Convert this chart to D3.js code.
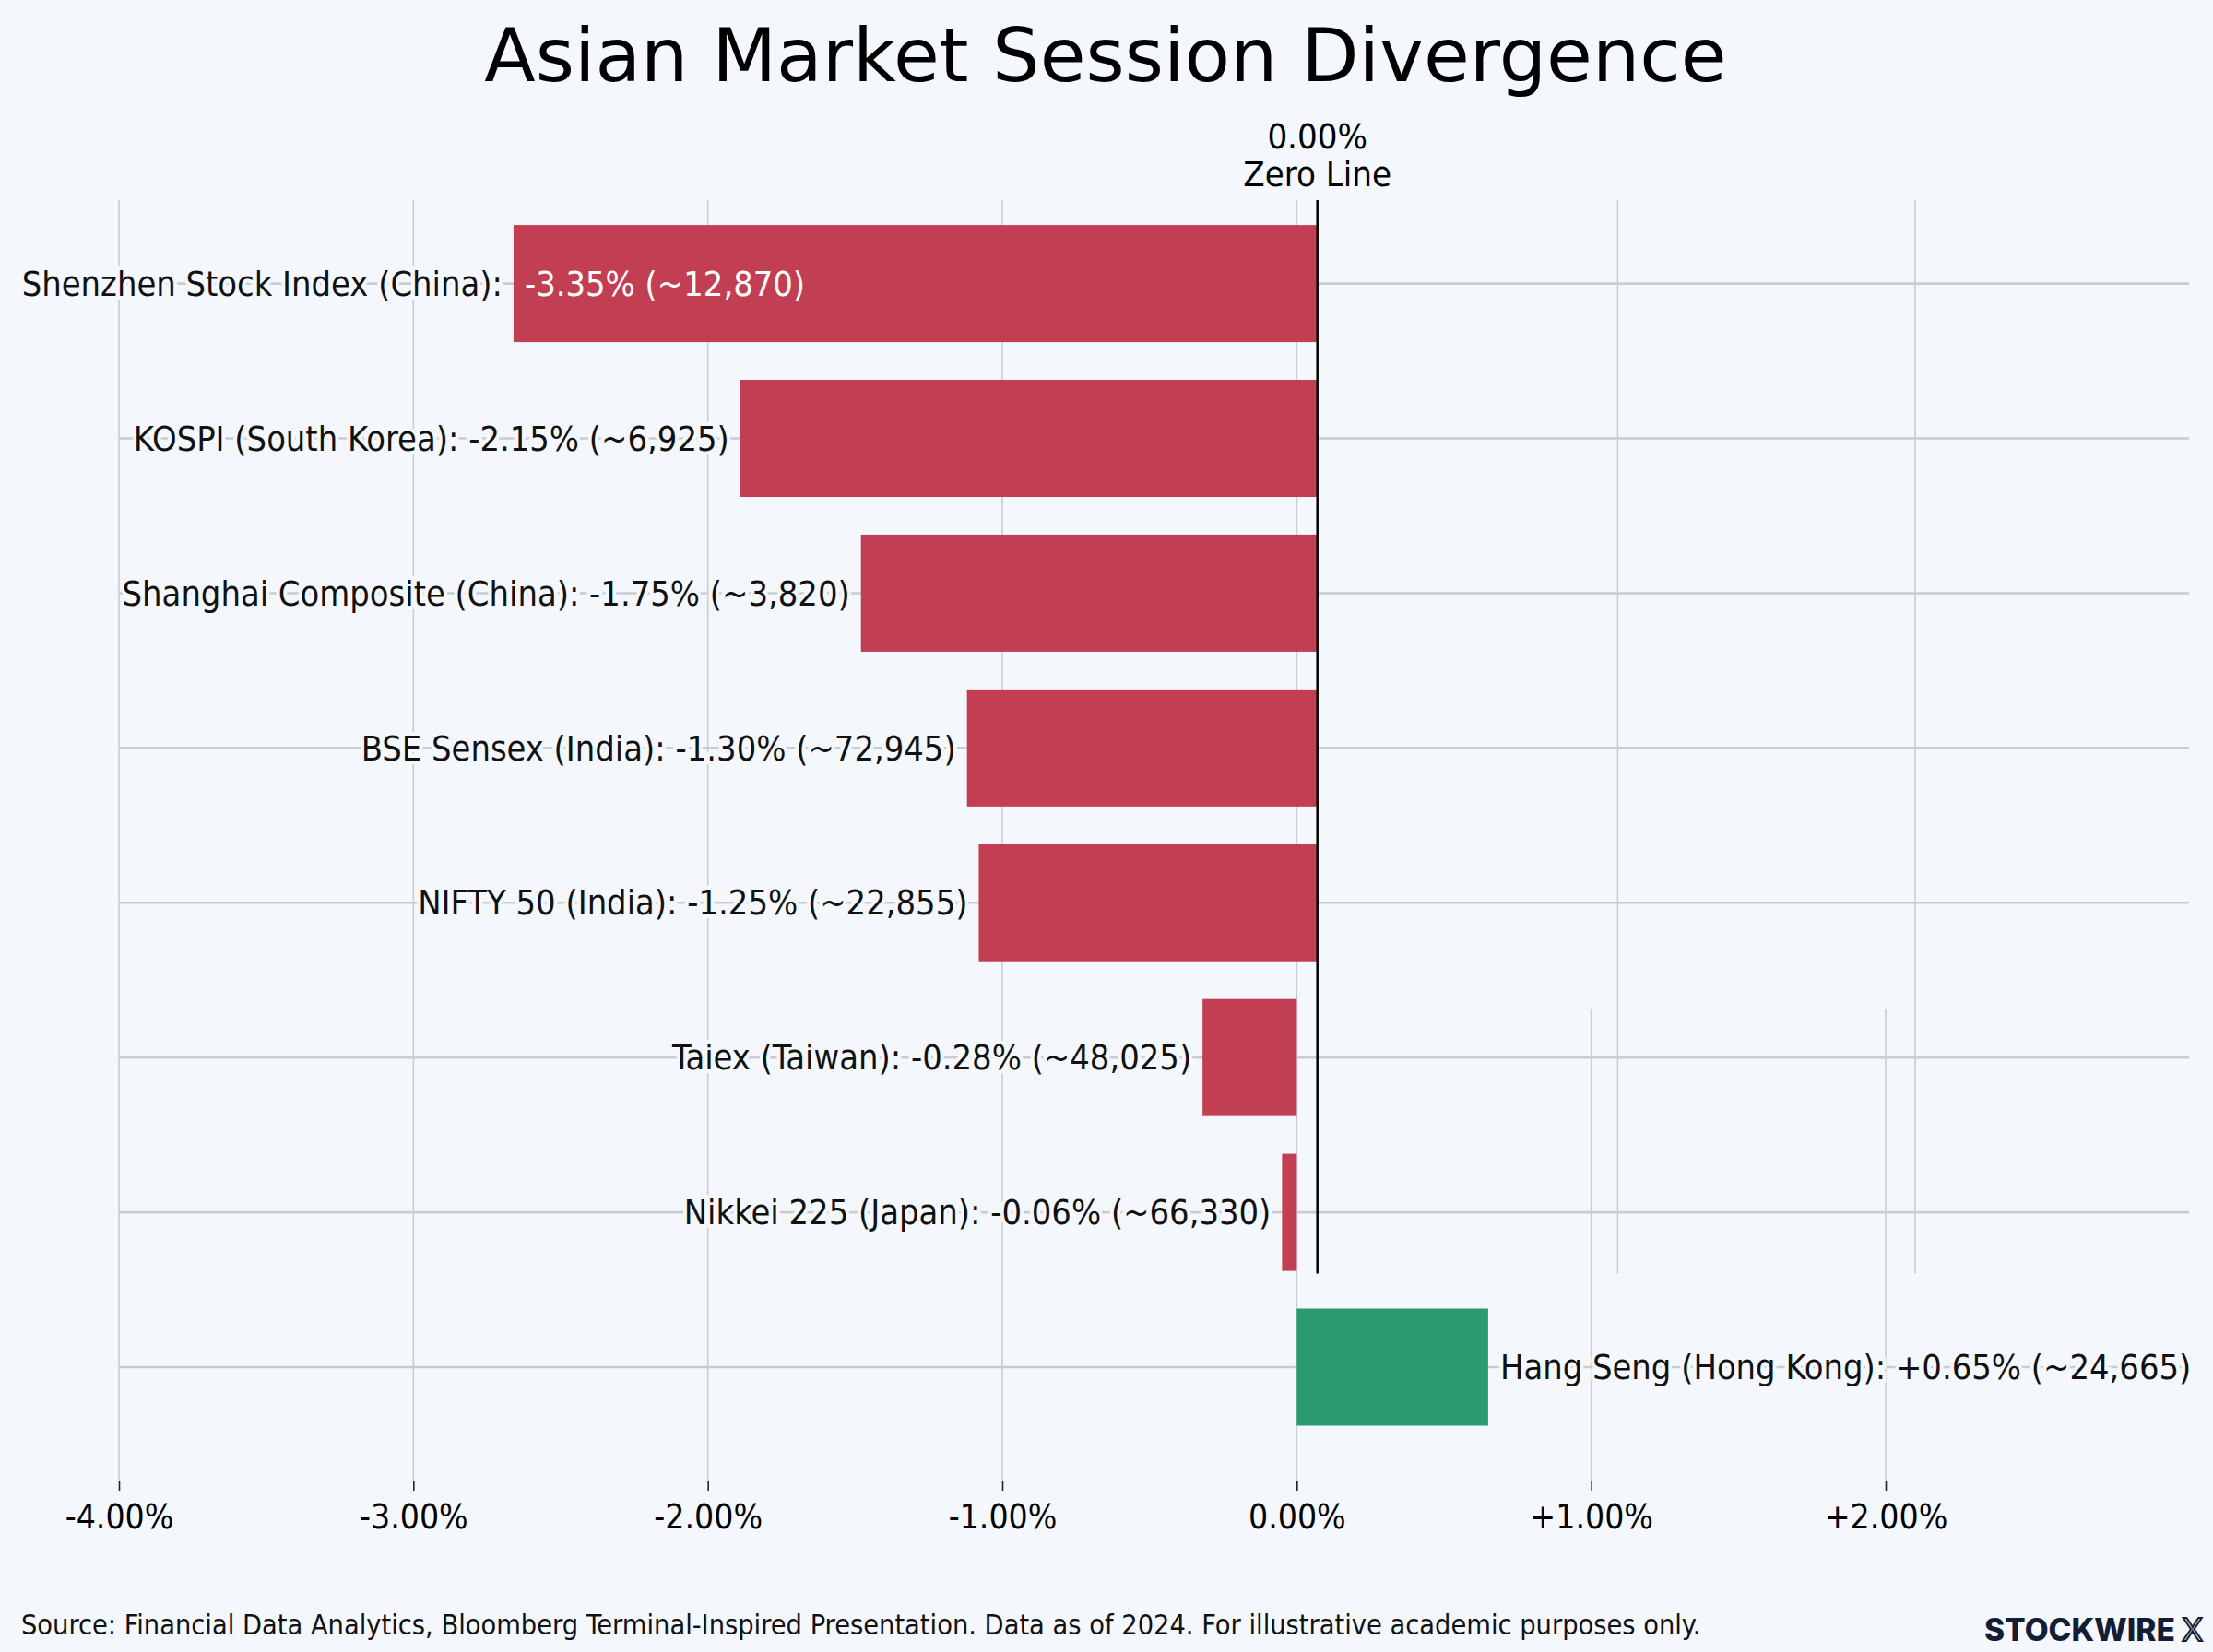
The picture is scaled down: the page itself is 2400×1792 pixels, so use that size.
<html>
<head>
    <title>Asian Market Session Divergence</title>
    <script src="https://d3js.org/d3.v7.min.js"></script>
    <style>
        body { margin: 0; background: #f4f8fc; }
        text { font-family: "DejaVu Sans Condensed", "DejaVu Sans", sans-serif; }
    </style>
</head>
<body>
    <svg id="chart" width="2400" height="1792"></svg>

    <script>
        // index names, session change (%) and approximate level, as printed on the labels
        const names = [
            "Shenzhen Stock Index (China)",
            "KOSPI (South Korea)",
            "Shanghai Composite (China)",
            "BSE Sensex (India)",
            "NIFTY 50 (India)",
            "Taiex (Taiwan)",
            "Nikkei 225 (Japan)",
            "Hang Seng (Hong Kong)"
        ];
        const changes = [-3.35, -2.15, -1.75, -1.30, -1.25, -0.28, -0.06, 0.65];
        const levels = [12870, 6925, 3820, 72945, 22855, 48025, 66330, 24665];

        // where each bar actually starts / ends on the axis
        const barStart = [-2.66, -1.89, -1.48, -1.12, -1.08, -0.32, -0.05, 0];
        const barEnd = [0.07, 0.07, 0.07, 0.07, 0.07, 0, 0, 0.65];

        const tickValues = [-4, -3, -2, -1, 0, 1, 2];
        const fullGrid = [-4, -3, -2, -1, 0];
        const lowerGrid = [1, 2];
        const upperGrid = [1.09, 2.10];
        const zeroLineAt = 0.07;

        const svg = d3.select("#chart");
        const bg = "#f4f8fc";
        const red = "#c23f53";
        const green = "#2a9a71";
        const gridColor = "#c9ccd0";

        svg.append("rect").attr("width", 2400).attr("height", 1792).attr("fill", bg);

        const x = d3.scaleLinear().domain([-4, 2]).range([129, 2045]);
        const y = d3.scalePoint().domain(names).range([307.6, 1483]);
        const barH = 127;
        const plotTop = 217;
        const plotBottom = 1607;
        const lastUpper = y(names[6]) + barH / 2 + 3;
        const firstLower = y(names[5]) - barH / 2 + 11;

        // title
        svg.append("text")
            .attr("x", 1199).attr("y", 88)
            .attr("text-anchor", "middle")
            .style("font-family", "'DejaVu Sans', sans-serif")
            .attr("font-size", 81)
            .attr("fill", "#000")
            .text("Asian Market Session Divergence");

        const grid = svg.append("g");

        grid.selectAll(".vfull").data(fullGrid).join("line")
            .attr("x1", d => x(d)).attr("x2", d => x(d))
            .attr("y1", plotTop).attr("y2", plotBottom)
            .attr("stroke", gridColor).attr("stroke-width", 1.6);

        grid.selectAll(".vlow").data(lowerGrid).join("line")
            .attr("x1", d => x(d)).attr("x2", d => x(d))
            .attr("y1", firstLower).attr("y2", plotBottom)
            .attr("stroke", gridColor).attr("stroke-width", 1.6);

        grid.selectAll(".vup").data(upperGrid).join("line")
            .attr("x1", d => x(d)).attr("x2", d => x(d))
            .attr("y1", plotTop).attr("y2", lastUpper)
            .attr("stroke", gridColor).attr("stroke-width", 1.6);

        grid.selectAll(".h").data(names).join("line")
            .attr("x1", x(-4)).attr("x2", 2374)
            .attr("y1", d => y(d)).attr("y2", d => y(d))
            .attr("stroke", gridColor).attr("stroke-width", 2.6);

        const rows = names.map((n, i) => ({
            name: n, change: changes[i], level: levels[i],
            from: barStart[i], to: barEnd[i]
        }));

        svg.append("g").selectAll("rect").data(rows).join("rect")
            .attr("x", d => x(d.from))
            .attr("width", d => x(d.to) - x(d.from))
            .attr("y", d => y(d.name) - barH / 2)
            .attr("height", barH)
            .attr("fill", d => d.change < 0 ? red : green);

        // zero line
        svg.append("line")
            .attr("x1", x(zeroLineAt)).attr("x2", x(zeroLineAt))
            .attr("y1", plotTop).attr("y2", lastUpper)
            .attr("stroke", "#000").attr("stroke-width", 2.5);

        svg.append("text")
            .attr("x", x(zeroLineAt)).attr("y", 161)
            .attr("text-anchor", "middle").attr("font-size", 38)
            .text("0.00%");
        svg.append("text")
            .attr("x", x(zeroLineAt)).attr("y", 202)
            .attr("text-anchor", "middle").attr("font-size", 38)
            .text("Zero Line");

        const fmtPct = v => (v > 0 ? "+" : "") + v.toFixed(2) + "%";
        const fmtLvl = d3.format(",");

        const labels = svg.append("g")
            .attr("font-size", 37.7);

        rows.forEach((d, i) => {
            const cy = y(d.name);
            const valueText = `${fmtPct(d.change)} (~${fmtLvl(d.level)})`;
            if (i === 0) {
                // name outside, value inside the bar in white
                labels.append("text")
                    .attr("x", x(d.from) - 12).attr("y", cy).attr("dy", "0.35em")
                    .attr("text-anchor", "end")
                    .attr("stroke", bg).attr("stroke-width", 8)
                    .attr("paint-order", "stroke").attr("fill", "#111")
                    .text(d.name + ":");
                labels.append("text")
                    .attr("x", x(d.from) + 12).attr("y", cy).attr("dy", "0.35em")
                    .attr("fill", "#fff")
                    .text(valueText);
            } else if (d.change < 0) {
                labels.append("text")
                    .attr("x", x(d.from) - 12).attr("y", cy).attr("dy", "0.35em")
                    .attr("text-anchor", "end")
                    .attr("stroke", bg).attr("stroke-width", 8)
                    .attr("paint-order", "stroke").attr("fill", "#111")
                    .text(`${d.name}: ${valueText}`);
            } else {
                labels.append("text")
                    .attr("x", x(d.to) + 13).attr("y", cy).attr("dy", "0.35em")
                    .attr("stroke", bg).attr("stroke-width", 8)
                    .attr("paint-order", "stroke").attr("fill", "#111")
                    .text(`${d.name}: ${valueText}`);
            }
        });

        // x axis
        const axis = svg.append("g")
            .attr("transform", `translate(0,${plotBottom})`)
            .call(d3.axisBottom(x).tickValues(tickValues).tickSize(10).tickFormat(fmtPct));
        axis.select(".domain").remove();
        axis.selectAll("line").attr("stroke", "#222").attr("stroke-width", 1.6);
        axis.selectAll("text")
            .attr("y", 38).attr("dy", "0.35em")
            .attr("font-size", 37)
            .attr("fill", "#000");

        // footer
        svg.append("text")
            .attr("x", 23).attr("y", 1762).attr("dy", "0.35em")
            .attr("font-size", 30.4).attr("fill", "#111")
            .text("Source: Financial Data Analytics, Bloomberg Terminal-Inspired Presentation. Data as of 2024. For illustrative academic purposes only.");

        const logo = svg.append("text")
            .attr("x", 2389).attr("y", 1768).attr("dy", "0.35em")
            .attr("text-anchor", "end")
            .style("font-family", "Inter, Lato, sans-serif")
            .attr("font-size", 33.5).attr("font-weight", 800)
            .attr("fill", "#141d33");
        logo.append("tspan").text("STOCKWIRE ");
        logo.append("tspan").attr("fill", bg).attr("stroke", "#141d33").attr("stroke-width", 2)
            .attr("font-weight", 400).text("X");
    </script>
</body>
</html>
